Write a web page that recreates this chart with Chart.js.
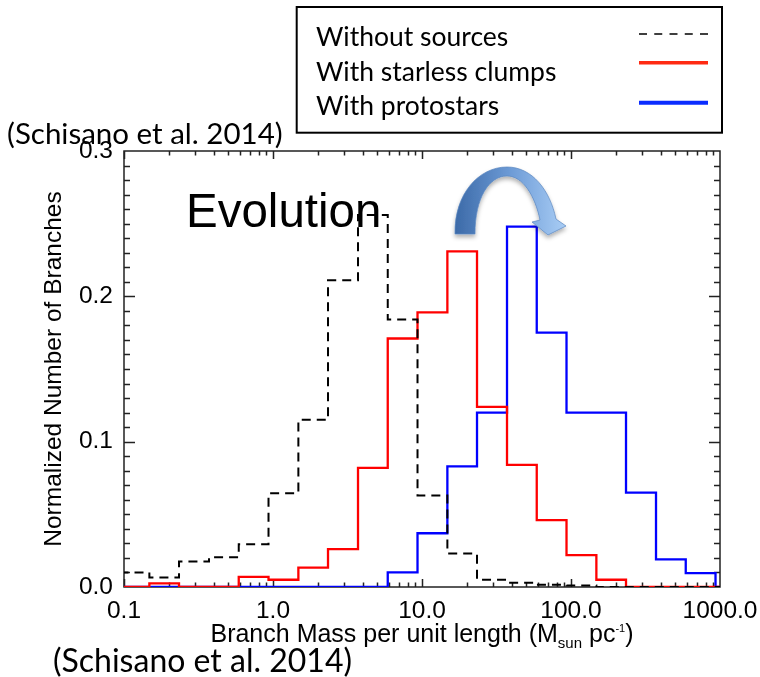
<!DOCTYPE html>
<html>
<head>
<meta charset="utf-8">
<script src="https://cdn.jsdelivr.net/npm/chart.js@4.4.1/dist/chart.umd.min.js"></script>
<style>
  html, body { margin: 0; padding: 0; background: #fff; }
  #wrap { position: relative; width: 760px; height: 677px; overflow: hidden; }
  #histo { position: absolute; left: 0; top: 0; }
  #overlay { position: absolute; left: 0; top: 0; pointer-events: none; }
  .txt { position: absolute; white-space: nowrap; line-height: 1; color: #000; }
  .cal { font-family: Lato, "Open Sans", sans-serif; }
  .hel { font-family: "Liberation Sans", Arial, sans-serif; }
  .sub { position: relative; top: 6px; font-size: 15px; }
  .sup { position: relative; top: -10px; font-size: 11px; }
</style>
</head>
<body>
<div id="wrap">
  <canvas id="histo" width="760" height="677"></canvas>

  <svg id="overlay" width="760" height="677" viewBox="0 0 760 677">
    <defs>
      <linearGradient id="arrowFill" x1="0" y1="0" x2="1" y2="0">
        <stop offset="0" stop-color="#3c6aa8"/>
        <stop offset="0.5" stop-color="#6d9bd6"/>
        <stop offset="1" stop-color="#a9cdf5"/>
      </linearGradient>
      <filter id="soft" x="-20%" y="-20%" width="140%" height="150%">
        <feDropShadow dx="0" dy="3" stdDeviation="2" flood-opacity="0.3"/>
      </filter>
    </defs>
    <!-- legend frame and keys -->
    <rect x="296.7" y="7" width="425.3" height="125.7" fill="none" stroke="#000" stroke-width="2"/>
    <line x1="639" y1="34" x2="708" y2="34" stroke="#000" stroke-width="1.5" stroke-dasharray="8 7.25"/>
    <line x1="639" y1="62.7" x2="708" y2="62.7" stroke="#ff2a12" stroke-width="3.5"/>
    <line x1="639" y1="102.7" x2="708" y2="102.7" stroke="#0a2cff" stroke-width="4"/>
    <!-- curved arrow -->
    <path filter="url(#soft)" fill="url(#arrowFill)" stroke="#5a87c0" stroke-width="0.7"
      d="M 455 234 C 454 195, 478 167, 507 167 C 532 167, 550 190, 556 219 L 566 226 L 548 235 L 532 222 L 540 220
         C 535 196, 523 176, 507 176 C 489 176, 475 198, 475 234 Z"/>
  </svg>

  <div class="txt cal" style="left:316px; top:22.6px; font-size:26.5px;">Without sources</div>
  <div class="txt cal" style="left:316px; top:57.9px; font-size:26.5px;">With starless clumps</div>
  <div class="txt cal" style="left:316px; top:91.9px; font-size:26.5px;">With protostars</div>
  <div class="txt cal" style="left:7px; top:117.5px; font-size:29.5px;">(Schisano et al. 2014)</div>
  <div class="txt cal" style="left:53px; top:644px; font-size:32px;">(Schisano et al. 2014)</div>
  <div class="txt hel" style="left:186px; top:187px; font-size:47.5px;">Evolution</div>
  <div class="txt hel" style="left:0; width:844px; top:621px; font-size:25px; text-align:center;">Branch Mass per unit length (M<span class="sub">sun</span> pc<span class="sup">-1</span>)</div>
</div>

<script>
// bin edges (log-spaced, 0.2 dex) and normalized counts per bin
const binEdges = [0.0933, 0.148, 0.234, 0.372, 0.589, 0.933, 1.48, 2.34, 3.72, 5.89, 9.33,
  14.8, 23.4, 37.2, 58.9, 93.3, 148, 234, 372, 589, 933, 1479];
const withoutSources = [0.010, 0.0065, 0.0175, 0.0205, 0.0294, 0.0645, 0.115, 0.211, 0.256, 0.184,
  0.063, 0.023, 0.005, 0.003, 0.0015, 0.001, 0, 0, 0, 0, 0];
const starlessClumps = [0, 0.0025, 0, 0, 0.007, 0.005, 0.0133, 0.026, 0.082, 0.171,
  0.189, 0.231, 0.124, 0.084, 0.046, 0.022, 0.005, 0, 0, 0, 0];
const protostars = [0, 0, 0, 0, 0, 0, 0, 0, 0, 0.010,
  0.037, 0.083, 0.120, 0.248, 0.175, 0.120, 0.120, 0.065, 0.019, 0.0095, 0];

const seriesNames = ["Without sources", "With starless clumps", "With protostars"];
const xTickValues = [0.1, 1, 10, 100, 1000];
const xTickLabels = ["0.1", "1.0", "10.0", "100.0", "1000.0"];
const yTickValues = [0, 0.1, 0.2, 0.3];

// one point per left bin edge, plus the closing right edge
function stepPoints(values) {
  return binEdges.map((e, i) => ({ x: e, y: values[Math.min(i, values.length - 1)] }));
}

// box frame with inward tick marks on all four sides
const frameTicks = {
  id: "frameTicks",
  beforeDatasetsDraw(chart) {
    const { ctx, chartArea: a, scales: { x, y } } = chart;
    ctx.save();
    ctx.strokeStyle = "#222";
    ctx.lineWidth = 1.5;
    ctx.strokeRect(a.left, a.top, a.right - a.left, a.bottom - a.top);
    ctx.beginPath();
    for (let d = 0.1; d < 1000; d *= 10) {
      for (let m = 1; m < 10; m++) {
        const px = Math.round(x.getPixelForValue(d * m)) + 0.5;
        const len = m === 1 ? 8 : 4.5;
        ctx.moveTo(px, a.bottom); ctx.lineTo(px, a.bottom - len);
        ctx.moveTo(px, a.top); ctx.lineTo(px, a.top + len);
      }
    }
    for (let i = 1; i < 30; i++) {
      const py = Math.round(y.getPixelForValue(i / 100)) + 0.5;
      const len = i % 10 === 0 ? 11 : 6;
      ctx.moveTo(a.left, py); ctx.lineTo(a.left + len, py);
      ctx.moveTo(a.right, py); ctx.lineTo(a.right - len, py);
    }
    ctx.stroke();
    ctx.restore();
  }
};

const tickFont = { family: "'Liberation Sans', Arial, sans-serif", size: 24.5 };

new Chart(document.getElementById("histo"), {
  type: "line",
  data: {
    datasets: [
      {
        label: seriesNames[0],
        data: stepPoints(withoutSources),
        borderColor: "#000",
        borderWidth: 2,
        borderDash: [9, 6]
      },
      {
        label: seriesNames[1],
        data: stepPoints(starlessClumps),
        borderColor: "#ff0000",
        borderWidth: 2.3
      },
      {
        label: seriesNames[2],
        data: stepPoints(protostars),
        borderColor: "#0000ff",
        borderWidth: 2.3
      }
    ]
  },
  options: {
    responsive: false,
    devicePixelRatio: 1,
    animation: false,
    datasets: { line: { stepped: true, pointRadius: 0, fill: false, tension: 0 } },
    layout: { padding: { left: 0, top: 151, right: 40, bottom: 0 } },
    plugins: { legend: { display: false }, tooltip: { enabled: false } },
    scales: {
      x: {
        type: "logarithmic",
        min: 0.1,
        max: 1000,
        grid: { display: false },
        border: { display: false },
        afterBuildTicks: s => { s.ticks = xTickValues.map(v => ({ value: v })); },
        afterFit: s => { s.height = 90; },
        ticks: {
          autoSkip: false,
          maxRotation: 0,
          padding: 2,
          color: "#000",
          font: tickFont,
          callback: v => xTickLabels[xTickValues.indexOf(v)]
        }
      },
      y: {
        min: 0,
        max: 0.3,
        grid: { display: false },
        border: { display: false },
        afterBuildTicks: s => { s.ticks = yTickValues.map(v => ({ value: v })); },
        afterFit: s => { s.width = 124; },
        ticks: {
          padding: 3,
          color: "#000",
          font: tickFont,
          callback: v => v.toFixed(1)
        },
        title: {
          display: true,
          text: "Normalized Number of Branches",
          color: "#000",
          font: { family: "'Liberation Sans', Arial, sans-serif", size: 24.5 },
          padding: { top: 40, bottom: 0 }
        }
      }
    }
  },
  plugins: [frameTicks]
});
</script>
</body>
</html>
